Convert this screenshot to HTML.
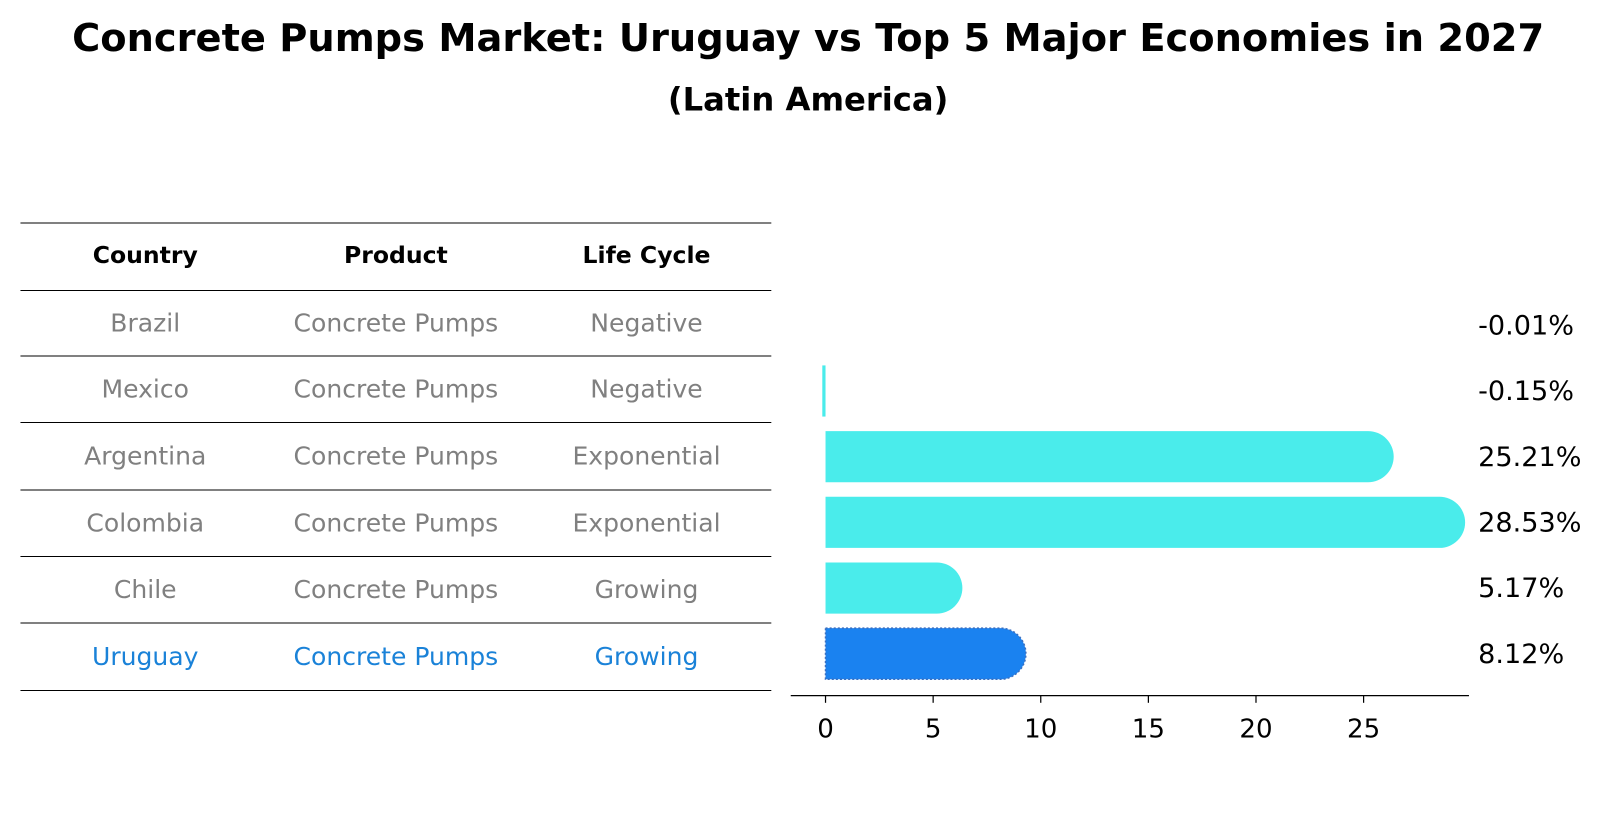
<!DOCTYPE html>
<html><head><meta charset="utf-8"><style>
html,body{margin:0;padding:0;background:#fff;}
svg{display:block;font-family:"DejaVu Sans","Liberation Sans",sans-serif;}
</style></head><body>
<svg id="chart" width="1604" height="823" viewBox="0 0 1568 804.5" preserveAspectRatio="none" xmlns="http://www.w3.org/2000/svg">
<text x="790" y="50" text-anchor="middle" font-size="37.5" font-weight="bold">Concrete Pumps Market: Uruguay vs Top 5 Major Economies in 2027</text>
<text x="790" y="108" text-anchor="middle" font-size="31.5" font-weight="bold">(Latin America)</text>
<g id="table"></g>
<g id="bars"></g>
</svg>
<script>
const countries = ["Brazil","Mexico","Argentina","Colombia","Chile","Uruguay"];
const products = ["Concrete Pumps","Concrete Pumps","Concrete Pumps","Concrete Pumps","Concrete Pumps","Concrete Pumps"];
const lifeCycles = ["Negative","Negative","Exponential","Exponential","Growing","Growing"];
const growthValues = [-0.01,-0.15,25.21,28.53,5.17,8.12];
const valueLabels = ["-0.01%","-0.15%","25.21%","28.53%","5.17%","8.12%"];
const ticks = [0,5,10,15,20,25];
const highlight = "Uruguay";

const NS="http://www.w3.org/2000/svg";
function mk(tag, attrs, parent){const e=document.createElementNS(NS,tag);for(const k in attrs)e.setAttribute(k,attrs[k]);parent.appendChild(e);return e;}
const xs = v => 807 + v*21.04;
const yRow = i => 318 + i*64.2;
const barH = 50;

const tg=document.getElementById('table');
const colX=[142,387,632];
const lineY=[218,284,348,413,479,544,609,675];
lineY.forEach(y=>{const l=mk('line',{x1:20,x2:754,y1:y,y2:y,stroke:'#000','stroke-width':1},tg);

});
["Country","Product","Life Cycle"].forEach((h,j)=>{const t=mk('text',{x:colX[j],y:257,'text-anchor':'middle','font-size':23,'font-weight':'bold'},tg);t.textContent=h;

});
countries.forEach((c,i)=>{
  const col = c===highlight ? '#1a82d8' : '#808080';
  [c,products[i],lifeCycles[i]].forEach((v,j)=>{
    const t=mk('text',{x:colX[j],y:(lineY[i+1]+lineY[i+2])/2+8,'text-anchor':'middle','font-size':24.5,fill:col},tg);t.textContent=v;
    
    
  });
});

const bg=document.getElementById('bars');
growthValues.forEach((v,i)=>{
  const yc=yRow(i), hl=countries[i]===highlight;
  const fill = hl ? '#1a82f0' : '#4aeceb';
  const x0=xs(Math.min(0,v)), x1=xs(Math.max(0,v));
  let w=x1-x0;
  if(v<0 && w<2.5 && v<-0.05) w=2.5;
  const g=mk('g',{},bg);
  
  
  if(v>0){
    const r=barH/2;
    mk('path',{d:`M${x0},${yc-r} L${x1},${yc-r} A${r},${r} 0 0 1 ${x1},${yc+r} L${x0},${yc+r} Z`,fill:fill,stroke:hl?'#3a6fc0':'none','stroke-width':hl?1.5:0,'stroke-dasharray':hl?'2,2':''},g);
  } else if(w>0.5){
    mk('rect',{x:x0,y:yc-barH/2,width:w,height:barH,fill:fill},g);
  }
  const t=mk('text',{x:1445,y:yc+9,'font-size':26.5},bg);t.textContent=valueLabels[i];
  
  
});
const ax=mk('line',{x1:773,x2:1436,y1:680,y2:680,stroke:'#000','stroke-width':1.3},bg);


ticks.forEach(tv=>{
  const tl=mk('line',{x1:xs(tv),x2:xs(tv),y1:680,y2:687,stroke:'#000','stroke-width':1.2},bg);
  
  
  const t=mk('text',{x:xs(tv),y:721,'text-anchor':'middle','font-size':25.5},bg);t.textContent=tv;
  
  
});
</script>
</body></html>
